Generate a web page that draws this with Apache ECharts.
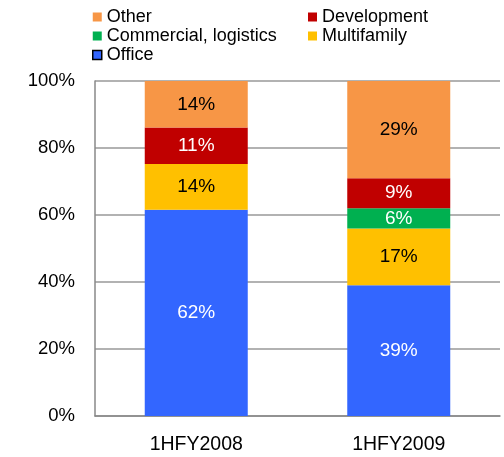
<!DOCTYPE html>
<html>
<head>
<meta charset="utf-8">
<script src="https://cdn.jsdelivr.net/npm/echarts@6/dist/echarts.min.js"></script>
<style>
  html, body { margin: 0; padding: 0; background: #fff; }
  #chart { width: 504px; height: 457px; }
</style>
</head>
<body>
<div id="chart"></div>
<script>
// Portfolio mix by segment, share of total (%)
const periods = ['1HFY2008', '1HFY2009'];
const office = [61.6, 39];
const multifamily = [13.6, 17];
const commercial = [0, 6];
const development = [10.9, 9];
const other = [13.9, 29];
const yTicks = [0, 20, 40, 60, 80, 100];

const FONT = 'Liberation Sans, Arial, sans-serif';

function seg(name, data, color, labelColor) {
  return {
    name: name,
    type: 'bar',
    stack: 'total',
    barWidth: 103,
    data: data,
    itemStyle: { color: color },
    label: {
      show: true,
      position: 'inside',
      color: labelColor,
      fontFamily: FONT,
      fontSize: 19,
      formatter: p => (p.value > 0 ? Math.round(p.value) + '%' : '')
    }
  };
}

const chart = echarts.init(document.getElementById('chart'), null, { renderer: 'canvas' });

const legendText = { fontFamily: FONT, fontSize: 18, color: '#000' };

chart.setOption({
  animation: false,
  backgroundColor: '#fff',
  legend: [
    {
      orient: 'vertical',
      left: 92,
      top: 8,
      padding: 0,
      itemWidth: 9,
      itemHeight: 9,
      itemGap: 1,
      icon: 'rect',
      textStyle: legendText,
      data: [
        { name: 'Other' },
        { name: 'Commercial, logistics' },
        { name: 'Office', itemStyle: { borderColor: '#000', borderWidth: 1.5 } }
      ]
    },
    {
      orient: 'vertical',
      left: 308,
      top: 8,
      padding: 0,
      itemWidth: 9,
      itemHeight: 9,
      itemGap: 1,
      icon: 'rect',
      textStyle: legendText,
      data: [{ name: 'Development' }, { name: 'Multifamily' }]
    }
  ],
  grid: { left: 95, right: 4, top: 81, bottom: 41 },
  xAxis: {
    type: 'category',
    data: periods,
    axisLine: { lineStyle: { color: '#888', width: 1.5 } },
    axisTick: { show: false },
    axisLabel: { color: '#000', fontFamily: FONT, fontSize: 19.5, margin: 19 }
  },
  yAxis: {
    type: 'value',
    min: yTicks[0],
    max: yTicks[yTicks.length - 1],
    interval: 20,
    axisLine: { show: true, lineStyle: { color: '#888', width: 1.5 } },
    axisTick: { show: false },
    splitLine: { lineStyle: { color: '#999', width: 1.5 } },
    axisLabel: {
      color: '#000',
      fontFamily: FONT,
      fontSize: 18.5,
      margin: 20,
      formatter: v => v + '%'
    }
  },
  series: [
    seg('Office', office, '#3366FF', '#fff'),
    seg('Multifamily', multifamily, '#FFC000', '#000'),
    seg('Commercial, logistics', commercial, '#00B050', '#fff'),
    seg('Development', development, '#C00000', '#fff'),
    seg('Other', other, '#F79646', '#000')
  ]
});
</script>
</body>
</html>
